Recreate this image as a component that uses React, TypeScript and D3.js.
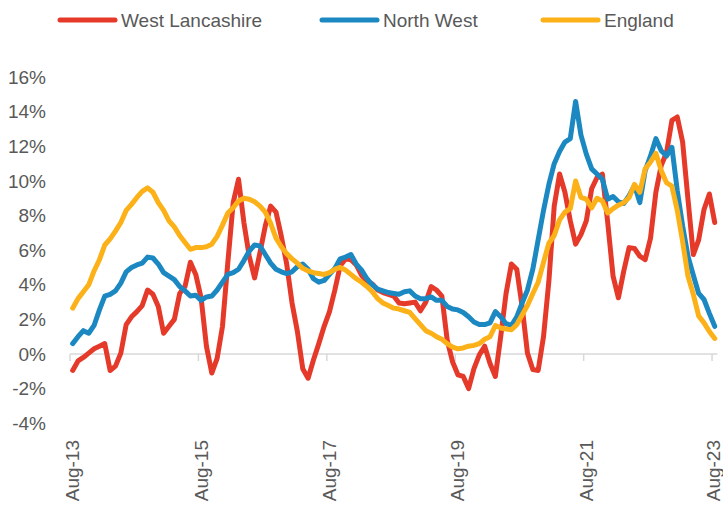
import React from "react";
import * as d3 from "d3";

// monthly categories Aug-13 .. Aug-23 (121 months)
const months = d3.timeMonth.range(new Date(2013, 7, 1), new Date(2023, 8, 1));

const westLancashire = [
  -0.95, -0.4, -0.2, 0.05, 0.3, 0.45, 0.6, -0.95, -0.7, 0.05, 1.7, 2.15,
  2.45, 2.8, 3.7, 3.45, 2.75, 1.2, 1.6, 2.0, 3.5, 3.9, 5.3, 4.6,
  3.25, 0.45, -1.1, -0.25, 1.6, 5.3, 8.75, 10.1, 7.6, 5.65, 4.4, 5.85,
  7.4, 8.55, 8.2, 6.8, 5.2, 2.95, 1.3, -0.85, -1.4, -0.35, 0.6, 1.6,
  2.45, 3.7, 5.1, 5.5, 5.45, 5.15, 4.55, 4.2, 4.05, 3.7, 3.55, 3.45,
  3.35, 2.95, 2.9, 2.95, 3.0, 2.5, 3.0, 3.9, 3.7, 3.35, 0.8, -0.45,
  -1.2, -1.3, -2.0, -0.85, -0.05, 0.45, -0.55, -1.3, 1.0, 3.5, 5.2, 4.9,
  2.75, 0.05, -0.9, -0.95, 1.0, 4.2, 8.55, 10.4, 9.35, 7.7, 6.35, 6.9,
  7.7, 9.55, 10.2, 10.4, 7.6, 4.5, 3.25, 4.8, 6.15, 6.1, 5.65, 5.45,
  6.7, 9.35, 10.9, 11.65, 13.5, 13.7, 12.25, 8.95, 5.75, 6.6, 8.35, 9.25,
  7.6
];

const northWest = [
  0.6, 1.0, 1.35, 1.2, 1.65, 2.55, 3.35, 3.45, 3.65, 4.1, 4.75, 5.0,
  5.15, 5.25, 5.6, 5.55, 5.2, 4.7, 4.5, 4.3, 3.9, 3.65, 3.35, 3.4,
  3.1, 3.3, 3.35, 3.7, 4.15, 4.6, 4.7, 4.9, 5.4, 5.95, 6.3, 6.25,
  5.75, 5.25, 4.9, 4.75, 4.65, 4.75, 5.05, 5.2, 4.9, 4.35, 4.15, 4.25,
  4.6, 4.95, 5.5, 5.6, 5.75, 5.2, 4.85, 4.35, 4.0, 3.75, 3.65, 3.55,
  3.5, 3.45, 3.6, 3.65, 3.35, 3.2, 3.2, 3.3, 3.1, 3.1, 2.75, 2.6,
  2.55, 2.4, 2.15, 1.85, 1.7, 1.7, 1.8, 2.45, 2.15, 1.75, 1.65, 2.15,
  2.95, 3.7, 4.9, 6.6, 8.3, 9.8, 11.0, 11.7, 12.25, 12.45, 14.6, 12.65,
  11.55, 10.7, 10.4, 10.1, 8.95, 9.1, 8.8, 8.7, 9.15, 9.75, 8.75, 10.6,
  11.45, 12.45, 11.75, 11.45, 11.95, 9.45, 7.4, 5.65, 4.55, 3.5, 3.15, 2.35,
  1.6
];

const england = [
  2.65, 3.2, 3.6, 4.0, 4.8, 5.45, 6.3, 6.65, 7.1, 7.6, 8.3, 8.65,
  9.05, 9.4, 9.6, 9.35, 8.75, 8.3, 7.7, 7.35, 6.85, 6.45, 6.05, 6.15,
  6.15, 6.2, 6.35, 6.8, 7.45, 8.15, 8.45, 8.85, 9.0, 8.95, 8.8, 8.55,
  8.2, 7.55, 6.7, 6.2, 5.8, 5.5, 5.25, 4.95, 4.8, 4.7, 4.65, 4.6,
  4.7, 4.9, 5.0, 4.85, 4.6, 4.35, 4.15, 3.9, 3.6, 3.2, 2.95, 2.8,
  2.65, 2.6, 2.5, 2.4, 2.05, 1.7, 1.35, 1.2, 1.0, 0.85, 0.6, 0.4,
  0.3, 0.35, 0.45, 0.5, 0.6, 0.85, 1.0, 1.65, 1.5, 1.45, 1.4, 1.7,
  2.25, 2.8, 3.5, 4.15, 5.3, 6.4, 6.85, 7.75, 8.2, 8.4, 10.0, 9.05,
  8.95, 8.45, 9.0, 8.85, 8.15, 8.4, 8.6, 8.75, 9.05, 9.8, 9.35, 10.7,
  11.1, 11.6, 10.6, 9.9, 9.7, 8.3, 6.5, 4.5, 3.45, 2.2, 1.8, 1.3,
  0.9
];

const seriesNames = ["West Lancashire", "North West", "England"];
const seriesColors = ["#E5392A", "#1B88C1", "#FBB117"];
const yTicks = [16, 14, 12, 10, 8, 6, 4, 2, 0, -2, -4];
const xTickLabels = ["Aug-13", "Aug-15", "Aug-17", "Aug-19", "Aug-21", "Aug-23"];
const tickEvery = 24;

const W = 723;
const H = 511;
const FONT = "'Liberation Sans', Arial, sans-serif";
const TEXT = "#595959";

export default function App() {
  const x = d3
    .scaleBand<number>()
    .domain(months.map((_, i) => i))
    .range([70, 717.4])
    .paddingInner(0)
    .paddingOuter(0);
  const bw = x.bandwidth();
  const y = d3.scaleLinear().domain([-4, 16]).range([423.2, 77.2]);

  const line = d3
    .line<number>()
    .x((_, i) => (x(i) as number) + bw / 2)
    .y((d) => y(d));

  const allSeries = [westLancashire, northWest, england];
  const tickIdx = xTickLabels.map((_, k) => k * tickEvery);
  const legendX = [60, 322, 543];

  return (
    <svg
      width={W}
      height={H}
      style={{ position: "absolute", left: 0, top: 0, background: "#fff" }}
      fontFamily={FONT}
    >
      {/* legend */}
      {seriesNames.map((name, i) => (
        <g key={name} transform={`translate(${legendX[i]},20)`}>
          <line x1={0} x2={55} y1={0} y2={0} stroke={seriesColors[i]} strokeWidth={5} strokeLinecap="round" />
          <text x={61} y={0} dominantBaseline="central" fontSize={19} fill={TEXT}>
            {name}
          </text>
        </g>
      ))}

      {/* y axis labels */}
      {yTicks.map((t) => (
        <text key={t} x={46} y={y(t)} textAnchor="end" dominantBaseline="central" fontSize={19} fill={TEXT}>
          {t}%
        </text>
      ))}

      {/* category axis */}
      <line x1={70} x2={717.4} y1={y(0)} y2={y(0)} stroke="#D9D9D9" strokeWidth={1.5} />
      {tickIdx.map((i) => (
        <line key={i} x1={x(i)} x2={x(i)} y1={y(0)} y2={y(0) + 7} stroke="#D9D9D9" strokeWidth={1.5} />
      ))}
      {tickIdx.map((i, k) => (
        <text
          key={k}
          transform={`translate(${Math.min((x(i) as number) + bw / 2, 713)},440) rotate(-90)`}
          textAnchor="end"
          dominantBaseline="central"
          fontSize={19}
          fill={TEXT}
        >
          {xTickLabels[k]}
        </text>
      ))}

      {/* series */}
      {allSeries.map((s, i) => (
        <path
          key={i}
          d={line(s) || ""}
          fill="none"
          stroke={seriesColors[i]}
          strokeWidth={5}
          strokeLinejoin="round"
          strokeLinecap="round"
        />
      ))}
    </svg>
  );
}
